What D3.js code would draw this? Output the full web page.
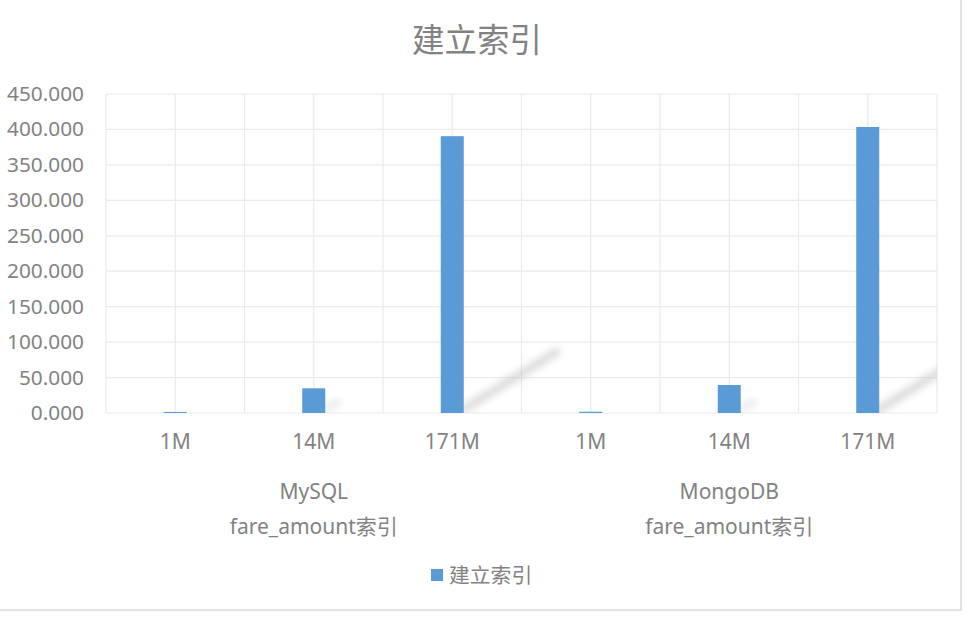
<!DOCTYPE html>
<html>
<head>
<meta charset="utf-8">
<script src="https://cdn.jsdelivr.net/npm/d3@7"></script>
<style>
  body { margin: 0; background: #fff; }
  svg text { font-family: "Noto Sans", "Noto Sans CJK SC", sans-serif; fill: #828282; }
</style>
</head>
<body>
<svg id="chart" width="966" height="617"></svg>
<script>
// data
var groups = ["MySQL", "MongoDB"];
var groupSub = ["fare_amount索引", "fare_amount索引"];
var sizes = ["1M", "14M", "171M"];
var values = [1.5, 34.8, 390.5, 1.8, 39.5, 403.5];
var yTicks = [0, 50, 100, 150, 200, 250, 300, 350, 400, 450];
var seriesName = "建立索引";

var svg = d3.select("#chart");
var m = { left: 106, right: 937, top: 94, bottom: 413 };

// outer frame (only right/bottom edges visible)
svg.append("rect").attr("x", -2).attr("y", -2).attr("width", 963).attr("height", 612)
  .attr("fill", "none").attr("stroke", "#d9d9d9").attr("stroke-width", 1.5);

var cats = [];
groups.forEach((g, gi) => sizes.forEach((s, si) => cats.push({ key: gi + "-" + s, label: s, group: gi })));

var x = d3.scaleBand().domain(cats.map(d => d.key)).range([m.left, m.right]);
var y = d3.scaleLinear().domain([0, 450]).range([m.bottom, m.top]);

// gridlines
svg.append("g").selectAll("line").data(yTicks).join("line")
  .attr("x1", m.left).attr("x2", m.right)
  .attr("y1", d => y(d)).attr("y2", d => y(d))
  .attr("stroke", "#ebebeb").attr("stroke-width", 1.2);

var vlines = d3.range(cats.length * 2 + 1).map(i => m.left + i * x.bandwidth() / 2);
svg.append("g").selectAll("line").data(vlines).join("line")
  .attr("x1", d => d).attr("x2", d => d)
  .attr("y1", m.top).attr("y2", m.bottom)
  .attr("stroke", "#ebebeb").attr("stroke-width", 1.2);

// soft shadow streaks, kept inside the plot
var defs = svg.append("defs");
defs.append("filter").attr("id", "blur").attr("x", "-50%").attr("y", "-50%").attr("width", "200%").attr("height", "200%")
  .append("feGaussianBlur").attr("stdDeviation", 3.5);
defs.append("clipPath").attr("id", "plot").append("rect")
  .attr("x", m.left).attr("y", m.top).attr("width", m.right - m.left).attr("height", m.bottom - m.top);
var streaks = [[cats[2].key, 92, 0.5], [cats[5].key, 66, 0.5], [cats[1].key, 12, 0.25], [cats[4].key, 12, 0.25]];
svg.append("g").attr("clip-path", "url(#plot)").selectAll("line").data(streaks).join("line")
  .attr("x1", d => x(d[0]) + x.bandwidth() / 2 + 12).attr("y1", m.bottom - 4)
  .attr("x2", d => x(d[0]) + x.bandwidth() / 2 + 12 + d[1]).attr("y2", d => m.bottom - 4 - d[1] * 0.62)
  .attr("stroke", "#bcbcbc").attr("stroke-width", 9).attr("opacity", d => d[2])
  .attr("stroke-linecap", "round")
  .attr("filter", "url(#blur)");

// bars
var bw = 23;
svg.append("g").selectAll("rect").data(cats).join("rect")
  .attr("x", d => x(d.key) + x.bandwidth() / 2 - bw / 2)
  .attr("width", bw)
  .attr("y", (d, i) => y(values[i]))
  .attr("height", (d, i) => y(0) - y(values[i]))
  .attr("fill", "#5b9bd5");

// y axis labels
svg.append("g").selectAll("text").data(yTicks).join("text")
  .attr("x", 84).attr("y", d => y(d) + 7)
  .attr("text-anchor", "end").attr("font-size", 20.8)
  .text(d3.format(".3f"));

// category labels
svg.append("g").selectAll("text").data(cats).join("text")
  .attr("x", d => x(d.key) + x.bandwidth() / 2).attr("y", 449)
  .attr("text-anchor", "middle").attr("font-size", 21)
  .text(d => d.label);

var gc = groups.map((g, gi) => (x(cats[gi * 3].key) + x(cats[gi * 3 + 2].key) + x.bandwidth()) / 2);
svg.append("g").selectAll("text").data(groups).join("text")
  .attr("x", (d, i) => gc[i]).attr("y", 499)
  .attr("text-anchor", "middle").attr("font-size", 21)
  .text(d => d);
svg.append("g").selectAll("text").data(groupSub).join("text")
  .attr("x", (d, i) => gc[i]).attr("y", 534)
  .attr("text-anchor", "middle").attr("font-size", 21)
  .text(d => d);

// title
svg.append("text").attr("x", 477).attr("y", 52).attr("text-anchor", "middle")
  .attr("font-size", 32.5).text(seriesName);

// legend
var lg = svg.append("g").attr("transform", "translate(431,569)");
lg.append("rect").attr("width", 12).attr("height", 12).attr("fill", "#5b9bd5");
lg.append("text").attr("x", 18).attr("y", 14).attr("font-size", 20.8).text(seriesName);
</script>
</body>
</html>
